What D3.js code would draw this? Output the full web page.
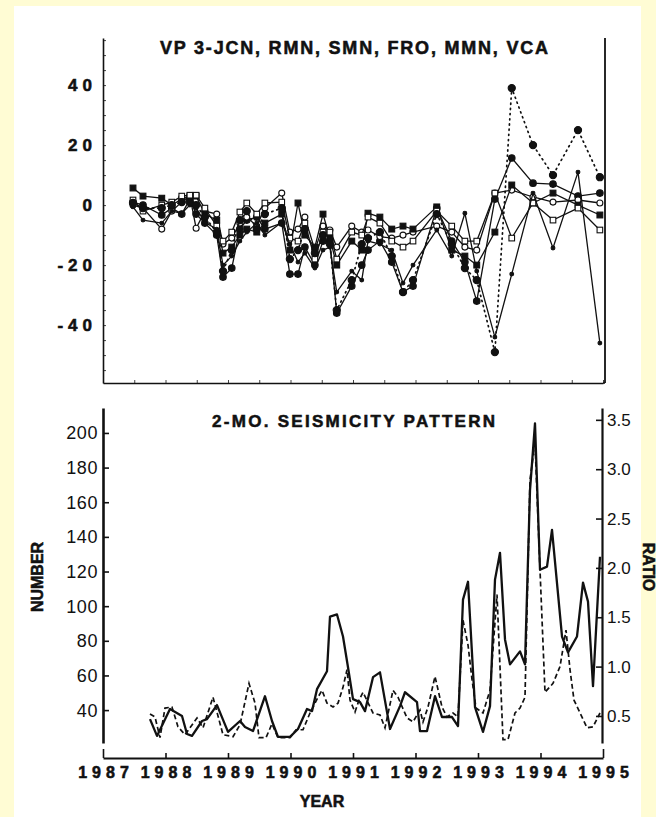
<!DOCTYPE html>
<html>
<head>
<meta charset="utf-8">
<script src="https://cdn.jsdelivr.net/npm/d3@7"></script>
<style>
  html, body { margin: 0; padding: 0; background: #fffcd4; }
  svg { display: block; }
  text { font-family: "Liberation Sans", Arial, Helvetica, sans-serif; fill: #111; }
  text.heavy { stroke: #111; stroke-width: 0.55px; }
</style>
</head>
<body>
<svg id="chart" width="656" height="817"></svg>
<script>
// ---- Upper panel: vertical displacement at six stations (survey epochs) ----
const surveyYears = [1987.48, 1987.64, 1987.94, 1988.10, 1988.26, 1988.39, 1988.49, 1988.63,
  1988.82, 1988.92, 1989.06, 1989.19, 1989.30, 1989.46, 1989.59, 1989.86, 1989.99, 1990.12,
  1990.23, 1990.39, 1990.52, 1990.63, 1990.74, 1990.98, 1991.14, 1991.24, 1991.43, 1991.62,
  1991.80, 1991.96, 1992.34, 1992.58, 1992.79, 1992.98, 1993.27, 1993.54, 1993.88, 1994.20,
  1994.60, 1994.95];
const jcn = [1, 0, -3.3, -1, -3, 2, -3, -6, -10, -24, -21, -8, -5, -4, -8, -6, -23, -23, -14, -20,
  -12, -12, -36, -27, -20, -15, -12, -19, -29, -27, -1, -12, -19, -32, 2, 15.7, 7.3, 7, 3, 4];
const rmn = [0, -1, -8, -2, 1, 3, -7.7, -2, -3, -13, -11, -6, -4, -7, -1, 4, -9, -8, -4, -15,
  -7, -8.3, -14, -7, -9, -8.3, -10.5, -11, -10, -9, -7, -9, -14, -15, 4, 5, 2.7, 1, 1.7, 0.7];
const smn = [5.7, 3, 2.3, 0, 2, 3, 3, -3, -5, -16, -14, -10, -8, -9, -6, -3, -15, 0.7, -10, -14,
  -3, -11, -20, -12, -15, -2.7, -4, -8, -7, -8, -0.6, -15, -17, -20, -9, 6.7, 0.7, 4, 0, -3.3];
const fro = [1.7, -2, 0, 1, 3, 3.3, 3.3, -1, -7, -12, -9, -2.3, 0.7, -3, 0.7, 1, -11, -12, -6, -18,
  -9, -9, -18, -9, -10, -4, -6, -12, -14, -12, -2, -7, -12, -12, 4, -11, 0.7, -5, -1, -8.3];
const mmn = [-0.6, -5, -6, -2, -2.7, 0, -1, -5.7, -8, -20, -17, -12, -9, -6, -10, -5.7, -13, -19,
  -16, -21, -15, -14, -29, -22, -25, -12, -13, -15, -26, -20, -8.3, -17, -2.7, -22, -44, -23, 4,
  -14.3, 11, -46];
const vca = [0.7, -1, -1, 0, 1, 1, 0, -4, -9, -22, -15, -5, -2, -8, -3, -1, -18, -15, -8, -16,
  -10, -13, -35, -25, -13, -11, -9, -17, -29, -25, -3, -13, -21, -25, -49, 39, 20, 10, 25, 9.3];
const topTicks = [40, 20, 0, -20, -40];

// ---- Lower panel: 2-month seismicity (number of events and ratio) ----
const numberYears = [1987.752, 1987.864, 1988.072, 1988.264, 1988.344, 1988.424, 1988.584, 1988.664,
  1988.824, 1989.0, 1989.192, 1989.272, 1989.4, 1989.592, 1989.704, 1989.8, 1989.992, 1990.12,
  1990.264, 1990.344, 1990.424, 1990.584, 1990.632, 1990.744, 1990.84, 1990.92, 1991.0, 1991.112,
  1991.192, 1991.32, 1991.432, 1991.592, 1991.752, 1991.832, 1992.024, 1992.072, 1992.184, 1992.312,
  1992.424, 1992.584, 1992.68, 1992.76, 1992.84, 1992.952, 1993.08, 1993.192, 1993.272, 1993.352,
  1993.432, 1993.512, 1993.672, 1993.752, 1993.832, 1993.912, 1993.992, 1994.104, 1994.184,
  1994.344, 1994.44, 1994.584, 1994.68, 1994.76, 1994.84, 1994.952];
const numberValues = [34.8, 25.1, 40.6, 36.6, 26.2, 25.1, 33.7, 34.8, 42.9, 27.4, 33.7, 30.2, 27.9,
  48.0, 33.7, 24.5, 24.5, 29.1, 40.6, 39.4, 52.1, 62.4, 94.0, 95.2, 82.5, 64.7, 46.3, 44.6, 39.4,
  59.0, 61.8, 29.1, 42.3, 50.3, 44.6, 27.9, 27.9, 48.0, 36.0, 36.0, 30.8, 103.8, 114.1, 41.7, 27.4,
  42.3, 115.3, 130.8, 80.8, 66.4, 73.9, 66.4, 167.0, 205.5, 121.0, 122.8, 144.0, 82.5, 73.3, 82.5,
  113.6, 102.6, 53.8, 128.5];
const ratioYears = [1987.752, 1987.832, 1987.912, 1987.992, 1988.104, 1988.2, 1988.312, 1988.504,
  1988.6, 1988.76, 1988.92, 1989.08, 1989.192, 1989.336, 1989.432, 1989.496, 1989.608, 1989.704,
  1989.8, 1989.992, 1990.088, 1990.2, 1990.312, 1990.44, 1990.504, 1990.584, 1990.68, 1990.76,
  1990.84, 1990.904, 1990.952, 1991.032, 1991.096, 1991.16, 1991.32, 1991.432, 1991.512, 1991.64,
  1991.72, 1991.864, 1991.96, 1992.072, 1992.12, 1992.2, 1992.312, 1992.424, 1992.504, 1992.6,
  1992.68, 1992.76, 1992.84, 1992.904, 1992.968, 1993.08, 1993.192, 1993.304, 1993.4, 1993.48,
  1993.592, 1993.672, 1993.752, 1993.832, 1993.912, 1993.992, 1994.072, 1994.2, 1994.312, 1994.408,
  1994.472, 1994.536, 1994.744, 1994.84, 1994.952];
const ratioValues = [0.52, 0.49, 0.28, 0.58, 0.59, 0.39, 0.31, 0.48, 0.38, 0.69, 0.31, 0.29, 0.41,
  0.83, 0.63, 0.28, 0.28, 0.42, 0.28, 0.28, 0.36, 0.36, 0.53, 0.69, 0.76, 0.63, 0.59, 0.63, 0.79,
  0.97, 0.66, 0.54, 0.66, 0.74, 0.53, 0.51, 0.38, 0.76, 0.69, 0.48, 0.44, 0.56, 0.44, 0.59, 0.90,
  0.59, 0.49, 0.53, 0.49, 1.47, 1.22, 0.87, 0.58, 0.53, 0.76, 1.73, 0.26, 0.26, 0.53, 0.58, 0.69,
  2.89, 3.27, 1.98, 0.74, 0.83, 1.0, 1.37, 0.97, 0.66, 0.38, 0.39, 0.53];
const numberTicks = [40, 60, 80, 100, 120, 140, 160, 180, 200];
const ratioTicks = [0.5, 1.0, 1.5, 2.0, 2.5, 3.0, 3.5];
const yearTicks = [1987, 1988, 1989, 1990, 1991, 1992, 1993, 1994, 1995];

const svg = d3.select("#chart");
const ink = "#111";

// paper
svg.append("rect").attr("x", 14).attr("y", 6).attr("width", 627).attr("height", 811).attr("fill", "#fff");

// shared time scale
const x = d3.scaleLinear().domain([1987, 1995]).range([103, 603]);

// ================= upper panel =================
const yTop = d3.scaleLinear().domain([-59.3, 55.7]).range([383, 38]);
const upper = svg.append("g");

upper.append("text").attr("class", "heavy").attr("x", 160).attr("y", 54)
  .attr("font-size", 18).attr("font-weight", "bold")
  .attr("textLength", 388).attr("lengthAdjust", "spacing")
  .text("VP  3-JCN, RMN, SMN, FRO, MMN, VCA");

// left axis with small inward ticks every 5 units
const leftTop = upper.append("g").attr("transform", "translate(103,0)")
  .call(d3.axisRight(yTop).tickValues(d3.range(-55, 56, 5)).tickSize(3).tickSizeOuter(0).tickFormat(""));
leftTop.select(".domain").attr("stroke", ink).attr("stroke-width", 1.6);
leftTop.selectAll(".tick line").attr("stroke", ink).attr("stroke-width", 0.8);

upper.selectAll("text.ylab").data(topTicks).join("text")
  .attr("class", "ylab heavy")
  .attr("x", 97).attr("y", d => yTop(d))
  .attr("dy", "0.36em").attr("text-anchor", "end")
  .attr("font-size", 17).attr("font-weight", "bold")
  .style("letter-spacing", "5px")
  .text(d => d < 0 ? "-" + Math.abs(d) : String(d));

// bottom axis with half-year ticks
const bottomTop = upper.append("g").attr("transform", "translate(0,383)")
  .call(d3.axisTop(x).tickValues(d3.range(1987, 1995.01, 0.5)).tickSize(3).tickSizeOuter(0).tickFormat(""));
bottomTop.select(".domain").attr("stroke", ink).attr("stroke-width", 1.6);
bottomTop.selectAll(".tick line").attr("stroke", ink).attr("stroke-width", 0.8);
upper.append("line").attr("x1", 603).attr("x2", 605).attr("y1", 383).attr("y2", 383).attr("stroke", ink).attr("stroke-width", 1.6);
upper.append("line").attr("x1", 605).attr("x2", 605).attr("y1", 38).attr("y2", 383).attr("stroke", ink).attr("stroke-width", 1.8);

const stations = [
  { name: "JCN", values: jcn, marker: "circle", fill: ink, dash: null, r: 3.3 },
  { name: "RMN", values: rmn, marker: "circle", fill: "#fff", dash: null, r: 3.0 },
  { name: "SMN", values: smn, marker: "square", fill: ink, dash: null, r: 2.9 },
  { name: "FRO", values: fro, marker: "square", fill: "#fff", dash: null, r: 2.8 },
  { name: "MMN", values: mmn, marker: "circle", fill: ink, dash: null, r: 1.9 },
  { name: "VCA", values: vca, marker: "circle", fill: ink, dash: "1.2,4", r: 3.6 }
];

const lineTop = d3.line().x(d => x(d[0])).y(d => yTop(d[1]));
stations.forEach(s => {
  const pts = surveyYears.map((t, i) => [t, s.values[i]]);
  const g = upper.append("g").attr("class", "station-" + s.name);
  g.append("path").attr("d", lineTop(pts))
    .attr("fill", "none").attr("stroke", ink)
    .attr("stroke-width", s.dash ? 1.7 : 1.3)
    .attr("stroke-linecap", "round")
    .attr("stroke-dasharray", s.dash);
  if (s.marker === "circle") {
    g.selectAll("circle").data(pts).join("circle")
      .attr("cx", d => x(d[0])).attr("cy", d => yTop(d[1])).attr("r", s.r)
      .attr("fill", s.fill).attr("stroke", ink).attr("stroke-width", 1.1);
  } else {
    g.selectAll("rect").data(pts).join("rect")
      .attr("x", d => x(d[0]) - s.r).attr("y", d => yTop(d[1]) - s.r)
      .attr("width", 2 * s.r).attr("height", 2 * s.r)
      .attr("fill", s.fill).attr("stroke", ink).attr("stroke-width", 1.1);
  }
});

// ================= lower panel =================
const yNum = d3.scaleLinear().domain([21, 214.4]).range([743, 408]);
const yRat = d3.scaleLinear().domain([0.226, 3.62]).range([743, 408]);
const lower = svg.append("g");

svg.append("defs").append("clipPath").attr("id", "plotclip")
  .append("rect").attr("x", 103).attr("y", 408).attr("width", 499).attr("height", 335);

lower.append("text").attr("class", "heavy").attr("x", 212).attr("y", 427)
  .attr("font-size", 17).attr("font-weight", "bold")
  .attr("textLength", 283).attr("lengthAdjust", "spacing")
  .text("2-MO.  SEISMICITY  PATTERN");

const leftBot = lower.append("g").attr("transform", "translate(103,0)")
  .call(d3.axisRight(yNum).tickValues(numberTicks).tickSize(6).tickSizeOuter(0).tickFormat(""));
leftBot.select(".domain").attr("stroke", ink).attr("stroke-width", 2.6);
leftBot.selectAll(".tick line").attr("stroke", ink).attr("stroke-width", 1.6);
lower.selectAll("text.nlab").data(numberTicks).join("text")
  .attr("class", "nlab")
  .attr("x", 98).attr("y", d => yNum(d)).attr("dy", "0.36em")
  .attr("text-anchor", "end").attr("font-size", 18)
  .style("letter-spacing", "0.6px")
  .text(d => d);

const rightBot = lower.append("g").attr("transform", "translate(602,0)")
  .call(d3.axisLeft(yRat).tickValues(ratioTicks).tickSize(6).tickSizeOuter(0).tickFormat(""));
rightBot.select(".domain").attr("stroke", ink).attr("stroke-width", 2.2);
rightBot.selectAll(".tick line").attr("stroke", ink).attr("stroke-width", 1.6);
lower.selectAll("text.rlab").data(ratioTicks).join("text")
  .attr("class", "rlab")
  .attr("x", 607).attr("y", d => yRat(d)).attr("dy", "0.36em")
  .attr("font-size", 17)
  .text(d => d.toFixed(1));

// year axis below the panel
const yearAxis = lower.append("g").attr("transform", "translate(0,758)")
  .call(d3.axisBottom(x).tickValues(yearTicks).tickSize(-5).tickSizeOuter(0).tickPadding(9));
yearAxis.select(".domain").attr("stroke", ink).attr("stroke-width", 1.8);
yearAxis.selectAll(".tick line").attr("stroke", ink).attr("stroke-width", 1.6)
  .attr("y2", d => (d === 1987 || d === 1995) ? -9 : -5);
yearAxis.selectAll(".tick text")
  .attr("class", "heavy")
  .attr("font-family", "\"Liberation Sans\", Arial, sans-serif")
  .attr("font-size", 16).attr("font-weight", "bold").attr("fill", ink)
  .attr("dx", "2.5px")
  .style("letter-spacing", "5px")
  .text(d => String(d));

lower.append("text").attr("class", "heavy").attr("x", 322).attr("y", 807).attr("text-anchor", "middle")
  .attr("font-size", 16).attr("font-weight", "bold").text("YEAR");
lower.append("text").attr("class", "heavy").attr("transform", "translate(43,577) rotate(-90)").attr("text-anchor", "middle")
  .attr("font-size", 16).attr("font-weight", "bold").text("NUMBER");
lower.append("text").attr("class", "heavy").attr("transform", "translate(643,567) rotate(90)").attr("text-anchor", "middle")
  .attr("font-size", 16).attr("font-weight", "bold").text("RATIO");

const plot = lower.append("g").attr("clip-path", "url(#plotclip)");
plot.append("path")
  .attr("d", d3.line().x(d => x(d[0])).y(d => yRat(d[1]))(ratioYears.map((t, i) => [t, ratioValues[i]])))
  .attr("fill", "none").attr("stroke", ink).attr("stroke-width", 1.7)
  .attr("stroke-dasharray", "5,3");
plot.append("path")
  .attr("d", d3.line().x(d => x(d[0])).y(d => yNum(d[1]))(numberYears.map((t, i) => [t, numberValues[i]])))
  .attr("fill", "none").attr("stroke", ink).attr("stroke-width", 2.3)
  .attr("stroke-linejoin", "round");
</script>
</body>
</html>
